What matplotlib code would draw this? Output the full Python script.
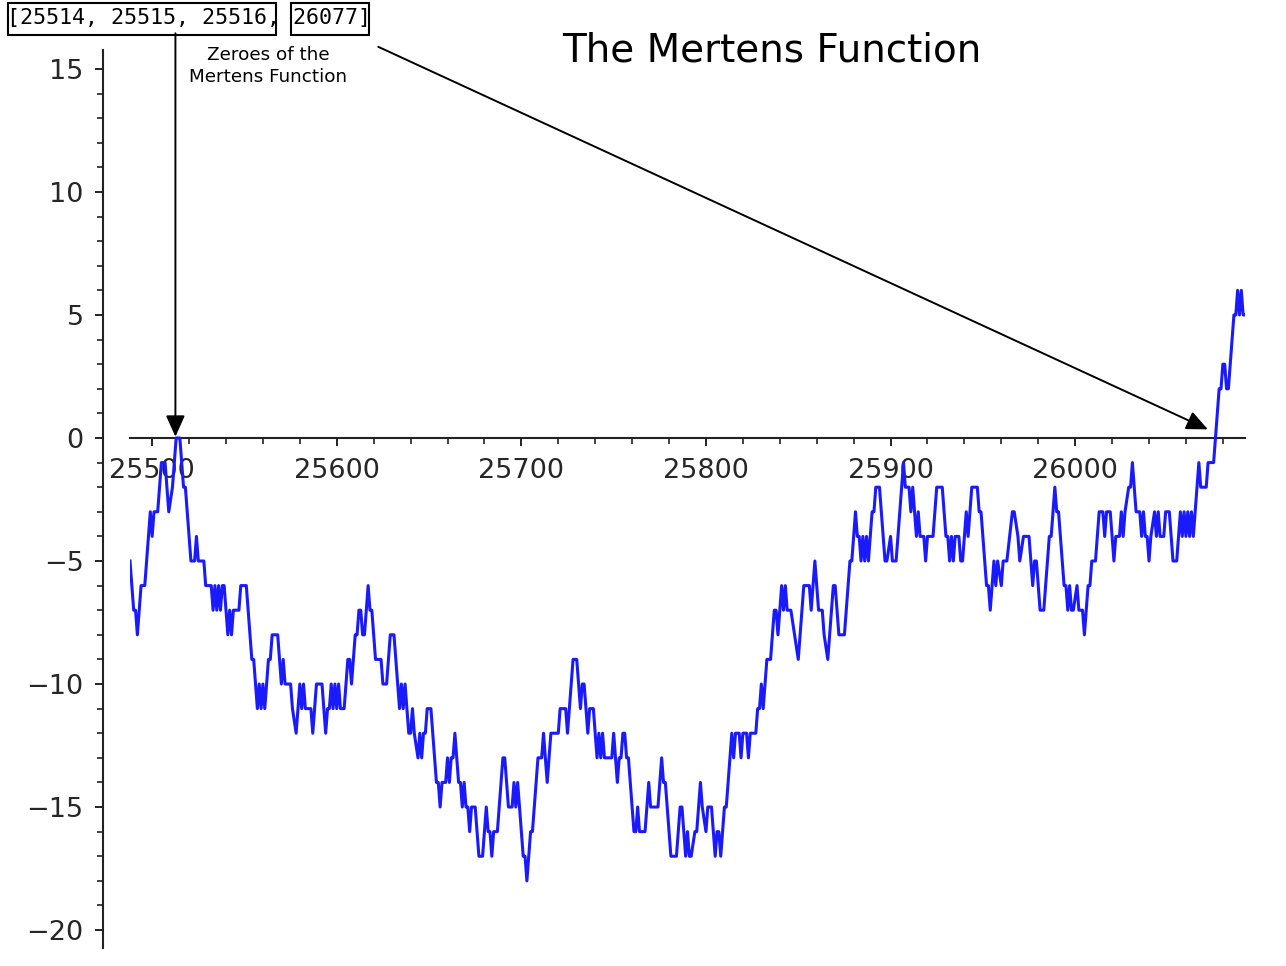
import matplotlib
matplotlib.use("Agg")
import matplotlib.pyplot as plt
from matplotlib.ticker import MultipleLocator
from matplotlib.patches import Rectangle

# Mertens function values (turning points of the curve)
n_values = [25488, 25490, 25491, 25492, 25494, 25496, 25498, 25499, 25500, 25501,
            25503, 25504, 25505, 25507, 25509, 25511, 25513, 25515, 25517, 25518,
            25521, 25523, 25524, 25525, 25528, 25529, 25532, 25533, 25534, 25535,
            25536, 25537, 25538, 25539, 25540, 25541, 25542, 25543, 25544, 25547,
            25548, 25551, 25554, 25555, 25557, 25558, 25559, 25560, 25561, 25563,
            25564, 25565, 25568, 25569, 25570, 25571, 25572, 25575, 25576, 25578,
            25580, 25581, 25582, 25583, 25586, 25587, 25589, 25592, 25593, 25594,
            25595, 25596, 25597, 25598, 25599, 25600, 25601, 25602, 25604, 25606,
            25607, 25608, 25610, 25611, 25612, 25613, 25614, 25615, 25617, 25618,
            25619, 25621, 25624, 25625, 25627, 25629, 25631, 25634, 25635, 25636,
            25637, 25639, 25640, 25641, 25642, 25644, 25645, 25646, 25647, 25648,
            25649, 25651, 25654, 25655, 25656, 25657, 25659, 25660, 25661, 25662,
            25663, 25664, 25666, 25667, 25668, 25669, 25670, 25671, 25672, 25673,
            25675, 25677, 25679, 25681, 25682, 25683, 25684, 25685, 25687, 25690,
            25691, 25693, 25695, 25696, 25697, 25698, 25701, 25702, 25703, 25705,
            25706, 25709, 25711, 25712, 25713, 25714, 25716, 25720, 25721, 25724,
            25725, 25726, 25728, 25730, 25732, 25733, 25734, 25736, 25737, 25739,
            25741, 25742, 25743, 25744, 25745, 25749, 25750, 25752, 25753, 25754,
            25755, 25756, 25757, 25758, 25761, 25762, 25763, 25764, 25767, 25769,
            25770, 25774, 25776, 25777, 25778, 25781, 25784, 25786, 25787, 25789,
            25790, 25791, 25792, 25794, 25795, 25797, 25798, 25800, 25801, 25803,
            25805, 25806, 25807, 25808, 25810, 25811, 25813, 25814, 25815, 25816,
            25818, 25819, 25820, 25822, 25823, 25824, 25827, 25828, 25829, 25830,
            25831, 25832, 25833, 25835, 25837, 25838, 25839, 25841, 25842, 25843,
            25844, 25846, 25848, 25850, 25853, 25855, 25856, 25857, 25858, 25859,
            25860, 25861, 25863, 25864, 25866, 25869, 25870, 25872, 25875, 25878,
            25879, 25881, 25882, 25883, 25884, 25885, 25886, 25887, 25888, 25890,
            25891, 25892, 25894, 25897, 25898, 25900, 25901, 25903, 25906, 25907,
            25908, 25910, 25911, 25912, 25913, 25914, 25915, 25916, 25918, 25919,
            25920, 25923, 25925, 25928, 25930, 25931, 25932, 25933, 25934, 25935,
            25937, 25938, 25939, 25941, 25942, 25943, 25944, 25947, 25948, 25949,
            25950, 25952, 25953, 25954, 25956, 25957, 25958, 25960, 25961, 25963,
            25966, 25967, 25969, 25970, 25972, 25975, 25977, 25978, 25979, 25981,
            25983, 25986, 25987, 25989, 25990, 25991, 25994, 25995, 25996, 25997,
            25998, 25999, 26001, 26002, 26004, 26005, 26007, 26008, 26009, 26011,
            26013, 26015, 26016, 26017, 26019, 26021, 26022, 26024, 26025, 26026,
            26027, 26029, 26030, 26031, 26032, 26033, 26035, 26036, 26037, 26038,
            26039, 26040, 26041, 26043, 26044, 26045, 26046, 26048, 26049, 26051,
            26053, 26055, 26057, 26058, 26059, 26060, 26061, 26062, 26063, 26064,
            26065, 26066, 26067, 26068, 26071, 26072, 26075, 26078, 26079, 26080,
            26081, 26082, 26083, 26086, 26087, 26088, 26089, 26090, 26091, 26092]
mertens_values = [-5, -7, -7, -8, -6, -6, -4, -3, -4, -3,
                  -3, -2, -1, -1, -3, -2, 0, 0, -2, -2,
                  -5, -5, -4, -5, -5, -6, -6, -7, -6, -7,
                  -6, -7, -6, -6, -7, -8, -7, -8, -7, -7,
                  -6, -6, -9, -9, -11, -10, -11, -10, -11, -9,
                  -9, -8, -8, -9, -10, -9, -10, -10, -11, -12,
                  -10, -11, -10, -11, -11, -12, -10, -10, -11, -12,
                  -11, -11, -10, -11, -10, -11, -10, -11, -11, -9,
                  -9, -10, -8, -8, -7, -7, -8, -8, -6, -7,
                  -7, -9, -9, -10, -10, -8, -8, -11, -10, -11,
                  -10, -12, -12, -11, -12, -13, -12, -13, -12, -12,
                  -11, -11, -14, -14, -15, -14, -14, -13, -14, -13,
                  -13, -12, -14, -14, -15, -14, -15, -15, -16, -15,
                  -15, -17, -17, -15, -16, -16, -17, -16, -16, -13,
                  -13, -15, -15, -14, -15, -14, -17, -17, -18, -16,
                  -16, -13, -13, -12, -13, -14, -12, -12, -11, -11,
                  -12, -11, -9, -9, -11, -10, -10, -12, -11, -11,
                  -13, -12, -13, -12, -13, -13, -12, -14, -13, -13,
                  -12, -12, -13, -13, -16, -16, -15, -16, -16, -14,
                  -15, -15, -13, -14, -14, -17, -17, -15, -15, -17,
                  -16, -17, -17, -16, -16, -14, -15, -16, -15, -15,
                  -17, -16, -16, -17, -15, -15, -13, -12, -13, -12,
                  -12, -13, -12, -12, -13, -12, -12, -11, -11, -10,
                  -11, -10, -9, -9, -7, -7, -8, -6, -7, -6,
                  -7, -7, -8, -9, -6, -6, -6, -7, -6, -5,
                  -6, -7, -7, -8, -9, -6, -6, -8, -8, -5,
                  -5, -3, -4, -4, -5, -4, -5, -4, -5, -3,
                  -3, -2, -2, -5, -5, -4, -5, -5, -2, -1,
                  -2, -2, -3, -2, -3, -4, -3, -4, -4, -5,
                  -4, -4, -2, -2, -4, -4, -5, -4, -5, -4,
                  -4, -5, -5, -3, -4, -3, -2, -2, -3, -3,
                  -4, -6, -6, -7, -5, -6, -5, -6, -5, -5,
                  -3, -3, -4, -5, -4, -4, -6, -5, -5, -7,
                  -7, -4, -4, -2, -3, -3, -6, -6, -7, -6,
                  -7, -7, -6, -7, -7, -8, -6, -6, -5, -5,
                  -3, -3, -4, -3, -3, -5, -4, -4, -3, -4,
                  -3, -2, -2, -1, -2, -3, -3, -4, -3, -4,
                  -4, -5, -4, -3, -4, -3, -4, -4, -3, -3,
                  -5, -5, -3, -4, -3, -4, -3, -4, -3, -4,
                  -3, -2, -1, -2, -2, -1, -1, 2, 2, 3,
                  3, 2, 2, 5, 5, 6, 5, 6, 5, 5]

zeroes = [25514, 25515, 25516, 26077]
title_text = "The Mertens Function"
note_text = "Zeroes of the\nMertens Function"

W, H = 1286, 966
fig = plt.figure(figsize=(W / 100, H / 100), dpi=100)
ax = fig.add_axes([130 / W, 1 - 948 / H, 1115 / W, 898 / H])
ax.set_axisbelow(True)

ax.plot(n_values, mertens_values, color="#1a1aff", lw=2.2, zorder=3)

ax.set_xlim(25488, 26092)
ax.set_ylim(-20.73, 15.77)

for s in ("top", "right"):
    ax.spines[s].set_visible(False)
ax.spines["bottom"].set_position(("data", 0))
ax.spines["left"].set_position(("outward", 19.4))
for s in ("bottom", "left"):
    ax.spines[s].set_linewidth(1.5)
    ax.spines[s].set_color("#222222")

ax.xaxis.set_major_locator(MultipleLocator(100))
ax.xaxis.set_minor_locator(MultipleLocator(20))
ax.yaxis.set_major_locator(MultipleLocator(5))
ax.yaxis.set_minor_locator(MultipleLocator(1))
ax.tick_params(axis="both", which="major", direction="out", length=6, width=1.4,
               color="#222222", labelsize=19.5, labelcolor="#262626")
ax.tick_params(axis="both", which="minor", direction="out", length=4, width=1.2,
               color="#222222")
ax.tick_params(axis="x", which="major", pad=8.5)
ax.tick_params(axis="y", which="major", pad=8)

fig.text(772 / W, 1 - 50 / H, title_text, ha="center", va="center", fontsize=28)
fig.text(268 / W, 1 - 66 / H, note_text, ha="center", va="center",
         fontsize=13.2, linespacing=1.25)

label = "[" + ", ".join(str(z) for z in zeroes) + "]"
fig.text(7 / W, 1 - 18 / H, label, ha="left", va="center",
         family="DejaVu Sans Mono", fontsize=15.6)
fig.add_artist(Rectangle((7.5 / W, 1 - 35 / H), (276 - 7.5) / W, 32.5 / H,
                         transform=fig.transFigure, fill=False, lw=1.5, ec="black"))
fig.add_artist(Rectangle((291 / W, 1 - 34.5 / H), (369 - 291) / W, 32 / H,
                         transform=fig.transFigure, fill=False, lw=1.5, ec="black"))

arrow_style = dict(arrowstyle="-|>,head_length=0.65,head_width=0.29",
                   color="black", lw=1.4, mutation_scale=20, shrinkA=0, shrinkB=0)
ax.annotate("", xy=(25512.6, 0.05), xytext=(25512.6, 16.45),
            arrowprops=arrow_style, annotation_clip=False)
ax.annotate("", xy=(26071.9, 0.35), xytext=(25622.5, 15.9),
            arrowprops=arrow_style, annotation_clip=False)

fig.savefig("out.png", dpi=100)
